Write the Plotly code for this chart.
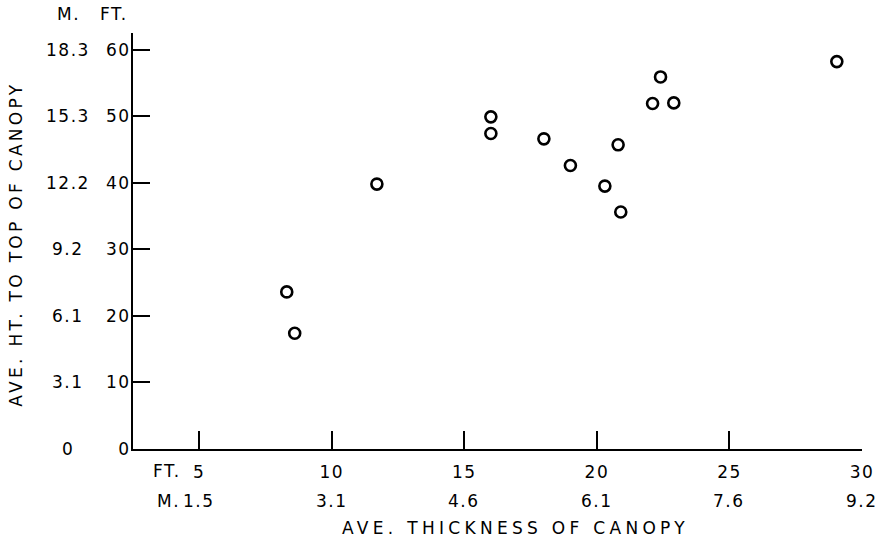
import plotly.graph_objects as go

# Data (feet)
thickness_ft = [8.3, 8.6, 11.7, 16.0, 16.0, 18.0, 19.0, 20.3, 20.8, 20.9, 22.1, 22.4, 22.9, 29.05]
height_ft = [23.6, 17.4, 39.8, 49.9, 47.4, 46.6, 42.6, 39.5, 45.7, 35.6, 51.9, 55.9, 52.0, 58.2]

x_ticks = [5, 10, 15, 20, 25, 30]
x_ticks_ft = ["5", "10", "15", "20", "25", "30"]
x_ticks_m = ["1.5", "3.1", "4.6", "6.1", "7.6", "9.2"]

y_ticks = [0, 10, 20, 30, 40, 50, 60]
y_ticks_ft = ["0", "10", "20", "30", "40", "50", "60"]
y_ticks_m = ["0", "3.1", "6.1", "9.2", "12.2", "15.3", "18.3"]

FONT = "DejaVu Sans"
FS = 17


def sp(t, ls):
    return f'<span style="letter-spacing:{ls}px">{t}</span>'


fig = go.Figure()
fig.add_trace(go.Scatter(
    x=thickness_ft, y=height_ft, mode="markers",
    marker=dict(symbol="circle", size=11, color="white",
                line=dict(color="black", width=2.6)),
    cliponaxis=False, showlegend=False,
))

W, H = 886, 541
L, R, T, B = 133, 19, 33, 92
pw = W - L - R
ph = H - T - B


def px_x(p):
    return (p - L) / pw


def px_y(p):
    return (H - B - p) / ph


ann = []
# M column on y axis
for v, t in zip(y_ticks, y_ticks_m):
    ann.append(dict(x=px_x(68), xref="paper", y=v, yref="y", text=sp(t, 1.5),
                    showarrow=False, xanchor="center", yanchor="middle",
                    font=dict(family=FONT, size=FS, color="black")))
# headers
ann.append(dict(x=px_x(68), xref="paper", y=px_y(14), yref="paper", text=sp("M.", 1.5),
                showarrow=False, xanchor="center", yanchor="middle",
                font=dict(family=FONT, size=FS, color="black")))
ann.append(dict(x=px_x(130), xref="paper", y=px_y(14), yref="paper", text=sp("FT.", 1.5),
                showarrow=False, xanchor="right", yanchor="middle",
                font=dict(family=FONT, size=FS, color="black")))
# x second row (meters)
for v, t in zip(x_ticks, x_ticks_m):
    ann.append(dict(x=v, xref="x", y=px_y(501), yref="paper", text=sp(t, 1.5),
                    showarrow=False, xanchor="center", yanchor="middle",
                    font=dict(family=FONT, size=FS, color="black")))
ann.append(dict(x=px_x(169), xref="paper", y=px_y(501), yref="paper", text=sp("M.", 1.5),
                showarrow=False, xanchor="center", yanchor="middle",
                font=dict(family=FONT, size=FS, color="black")))
ann.append(dict(x=px_x(167), xref="paper", y=px_y(471), yref="paper", text=sp("FT.", 1.5),
                showarrow=False, xanchor="center", yanchor="middle",
                font=dict(family=FONT, size=FS, color="black")))
# titles
ann.append(dict(x=px_x(518), xref="paper", y=px_y(528), yref="paper",
                text=sp("AVE. THICKNESS OF CANOPY", 4.3),
                showarrow=False, xanchor="center", yanchor="middle",
                font=dict(family=FONT, size=FS, color="black")))
ann.append(dict(x=px_x(15), xref="paper", y=px_y(244), yref="paper",
                text=sp("AVE. HT. TO TOP OF CANOPY", 3.3), textangle=-90,
                showarrow=False, xanchor="center", yanchor="middle",
                font=dict(family=FONT, size=FS, color="black")))

fig.update_layout(
    width=W, height=H,
    margin=dict(l=L, r=R, t=T, b=B, pad=0),
    paper_bgcolor="white", plot_bgcolor="white",
    annotations=ann,
    xaxis=dict(range=[2.5, 30], showgrid=False, zeroline=False,
               showline=True, linecolor="black", linewidth=2,
               tickmode="array", tickvals=x_ticks,
               ticktext=[sp(t, 1.5) for t in x_ticks_ft],
               ticks="inside", ticklen=18, tickwidth=2, tickcolor="black",
               ticklabelstandoff=7,
               tickfont=dict(family=FONT, size=FS, color="black")),
    yaxis=dict(range=[0, 62.5], showgrid=False, zeroline=False,
               showline=True, linecolor="black", linewidth=2,
               tickmode="array", tickvals=y_ticks,
               ticktext=[sp(t, 1.5) for t in y_ticks_ft],
               ticks="inside", ticklen=17, tickwidth=2, tickcolor="black",
               ticklabelstandoff=-3,
               tickfont=dict(family=FONT, size=FS, color="black")),
)

fig.write_html("out.html")
